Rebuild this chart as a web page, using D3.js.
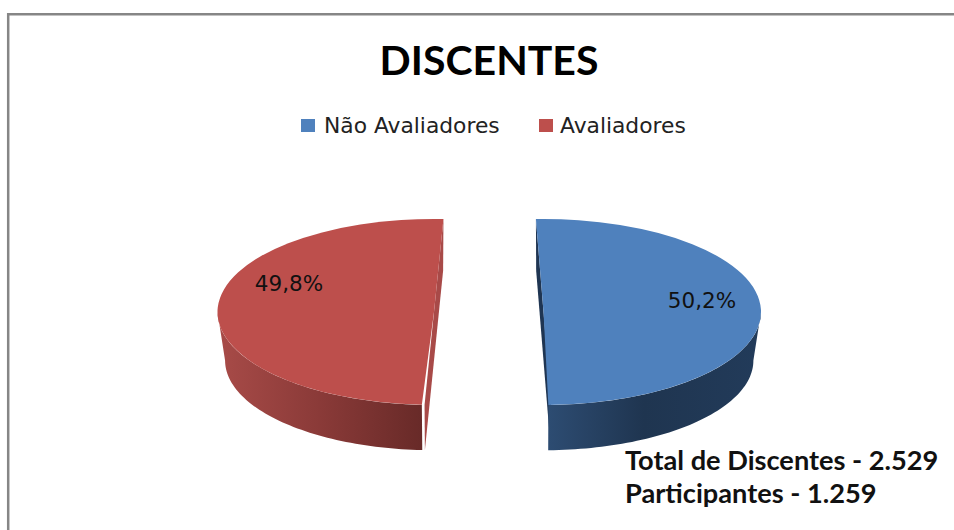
<!DOCTYPE html>
<html>
<head>
<meta charset="utf-8">
<script src="https://cdnjs.cloudflare.com/ajax/libs/d3/7.8.5/d3.min.js"></script>
<style>
  html, body { margin: 0; padding: 0; background: #fff; }
  svg { display: block; }
  text { fill: #000; }
  .title { font: bold 41px Lato, sans-serif; text-anchor: middle; }
  .legend { font: 21.8px "DejaVu Sans", sans-serif; fill: #222; }
  .pct { font: 21.5px "DejaVu Sans", sans-serif; fill: #111; text-anchor: middle; }
  .note { font: bold 27.2px Lato, sans-serif; fill: #111; }
</style>
</head>
<body>
<div id="chart"></div>
<script>
var categories = ["Não Avaliadores", "Avaliadores"];
var shares = [50.2, 49.8];
var shareLabels = ["50,2%", "49,8%"];
var notes = ["Total de Discentes - 2.529", "Participantes - 1.259"];
var colors = ["#4f81bd", "#bd4f4c"];

var width = 954, height = 530;
var depth = 48.5;
var rad = Math.PI / 180;
var unit = 1000; // arc is drawn big and scaled down, small radii get rounded badly near 180 degrees

// each slice sits on its own centre because of the explosion; turn fits the perspective of the cut
var sliceLayout = [
  { cx: 543.5, cy: 312, rx: 217.5, ry: 93, turn: 0, rimFrom: 90, rimTo: 180, face: "start", labelX: 158.5, labelY: -12 },
  { cx: 434, cy: 312, rx: 216.5, ry: 93, turn: 4.5, rimFrom: 180, rimTo: 270, face: "end", labelX: -145, labelY: -29 }
];

var svg = d3.select("#chart").append("svg")
  .attr("width", width)
  .attr("height", height);

var defs = svg.append("defs");

function addGradient(id, stops) {
  var g = defs.append("linearGradient").attr("id", id);
  stops.forEach(function(s) {
    g.append("stop").attr("offset", s[0]).attr("stop-color", s[1]);
  });
}
addGradient("rim0", [[0, "#2d4c72"], [0.45, "#1f3550"], [1, "#223b5a"]]);
addGradient("rim1", [[0, "#a84b48"], [0.5, "#8a3a38"], [1, "#682a28"]]);

// frame, only top and left are in the picture
svg.append("path")
  .attr("d", d3.line()([[width, 14.3], [8.2, 14.3], [8.2, height]]))
  .attr("fill", "none")
  .attr("stroke", "#868686")
  .attr("stroke-width", 2.5);

svg.append("text")
  .attr("class", "title")
  .attr("x", 489)
  .attr("y", 75)
  .text("DISCENTES");

// legend
var legendX = [301, 539];
var legend = svg.selectAll(".legendItem")
  .data(categories)
  .enter()
  .append("g")
  .attr("class", "legendItem")
  .attr("transform", function(d, i) { return "translate(" + legendX[i] + ",119)"; });

legend.append("rect")
  .attr("width", 14)
  .attr("height", 13)
  .attr("fill", function(d, i) { return colors[i]; });

legend.append("text")
  .attr("class", "legend")
  .attr("x", function(d, i) { return i == 0 ? 23 : 21; })
  .attr("y", 14)
  .text(function(d) { return d; });

// pie
var pie = d3.pie().sort(null).startAngle(-2 * rad).endAngle(358 * rad);
var slices = pie(shares);
var arc = d3.arc().innerRadius(0).outerRadius(unit);

function topPoint(s, angle) {
  return [s.cx + s.rx * Math.sin(angle), s.cy - s.ry * Math.cos(angle)];
}

function lowPoint(s, angle) {
  return [s.cx + s.rx * 0.965 * Math.sin(angle), s.cy + depth - s.ry * 0.965 * Math.cos(angle)];
}

slices.forEach(function(d, i) {
  var s = sliceLayout[i];
  var turn = s.turn * rad;
  var a0 = d.startAngle + turn, a1 = d.endAngle + turn;

  // cut face
  var cut = s.face == "start" ? a0 : a1;
  svg.append("path")
    .attr("d", d3.line()([
      topPoint(s, cut),
      topPoint(s, cut + Math.PI),
      lowPoint(s, cut + Math.PI),
      lowPoint(s, cut)
    ]) + "Z")
    .attr("fill", i == 0 ? "#1f3552" : "#a84a48");

  // rim
  var from = Math.max(a0, s.rimFrom * rad), to = Math.min(a1, s.rimTo * rad);
  var steps = d3.range(0, 61).map(function(k) { return from + (to - from) * k / 60; });
  var rimPoints = steps.map(function(a) { return topPoint(s, a); })
    .concat(steps.slice().reverse().map(function(a) { return lowPoint(s, a); }));
  svg.append("path")
    .attr("d", d3.line()(rimPoints) + "Z")
    .attr("fill", "url(#rim" + i + ")");

  // top
  svg.append("path")
    .attr("transform", "translate(" + s.cx + "," + s.cy + ") scale(" + (s.rx / unit) + "," + (s.ry / unit) + ")")
    .attr("d", arc({ startAngle: a0, endAngle: a1 }))
    .attr("fill", colors[i]);

  svg.append("text")
    .attr("class", "pct")
    .attr("x", s.cx + s.labelX)
    .attr("y", s.cy + s.labelY + 8)
    .text(shareLabels[i]);
});

// note under the pie
svg.selectAll(".note")
  .data(notes)
  .enter()
  .append("text")
  .attr("class", "note")
  .attr("x", 625)
  .attr("y", function(d, i) { return 470 + i * 32.5; })
  .text(function(d) { return d; });
</script>
</body>
</html>
